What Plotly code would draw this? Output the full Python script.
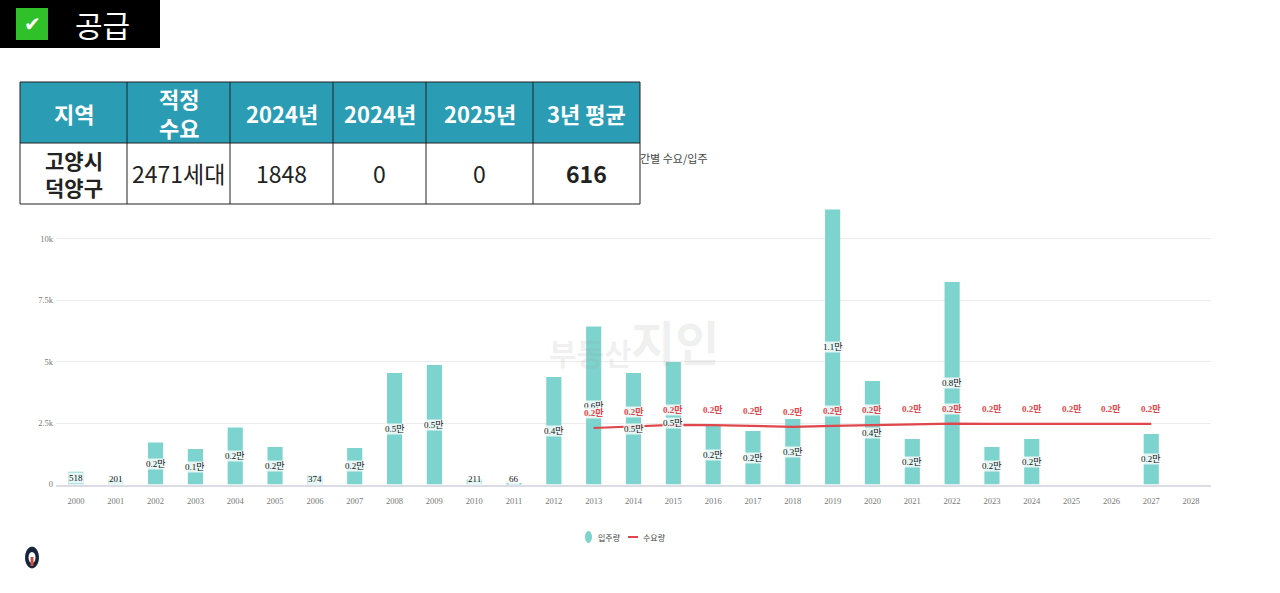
import plotly.graph_objects as go

years = [str(y) for y in range(2000, 2029)]
supply = [518, 201, 1710, 1445, 2320, 1530, 374, 1490, 4540, 4865, 211, 66, 4380, 6430, 4540,
          4990, 2420, 2180, 2670, 11200, 4215, 1850, 8245, 1530, 1848, None, None, 2060, None]
supply_labels = ['518', '201', '0.2만', '0.1만', '0.2만', '0.2만', '374', '0.2만', '0.5만', '0.5만', '211', '66',
                 '0.4만', '0.6만', '0.5만', '0.5만', '0.2만', '0.2만', '0.3만', '1.1만', '0.4만', '0.2만', '0.8만',
                 '0.2만', '0.2만', '', '', '0.2만', '']
demand_years = [str(y) for y in range(2013, 2028)]
demand = [2300, 2360, 2430, 2420, 2390, 2350, 2390, 2430, 2450, 2480, 2470, 2470, 2470, 2470, 2471]
demand_labels = ['0.2만'] * 15

y_ticks = [0, 2500, 5000, 7500, 10000]
y_labels = ['0', '2.5k', '5k', '7.5k', '10k']

table_header = ['지역', '적정<br>수요', '2024년', '2024년', '2025년', '3년 평균']
table_row = ['<b>고양시<br>덕양구</b>', '2471세대', '1848', '0', '0', '<b>616</b>']
table_widths = [107, 103, 103, 93, 107, 107]

W, H = 1280, 593
BAR = '#7dd3cd'
RED = '#e0474c'
TEAL = '#2a9db5'
SERIF = 'Liberation Serif, Noto Sans CJK KR, serif'
KR = 'Noto Sans CJK KR, Noto Sans, sans-serif'
LABEL_BG = 'rgba(255,255,255,0.8)'


def px(x):
    return x / W


def py(y):
    return 1 - y / H


def paper_shape(kind, x0, y0, x1, y1, **kw):
    return dict(type=kind, xref='paper', yref='paper', x0=px(x0), x1=px(x1), y0=py(y0), y1=py(y1),
                layer='above', **kw)


def paper_text(text, x, y, size, color, family=KR, xanchor='center'):
    return dict(text=text, xref='paper', yref='paper', x=px(x), y=py(y), xanchor=xanchor, yanchor='middle',
                showarrow=False, font=dict(family=family, size=size, color=color))


fig = go.Figure()
fig.add_trace(go.Bar(x=years, y=supply, cliponaxis=False, showlegend=False,
                     marker=dict(color=BAR, line=dict(width=0))))
fig.add_trace(go.Scatter(x=demand_years, y=demand, mode='lines', cliponaxis=False, showlegend=False,
                         line=dict(color=RED, width=2.2)))

fig.update_xaxes(type='category', categoryorder='array', categoryarray=years, range=[-0.5, 28.5],
                 domain=[px(56), px(1211)], showgrid=False, showline=True, linecolor='#dcdce6', linewidth=1.5,
                 ticks='', tickfont=dict(family=SERIF, size=8.5, color='#777'), ticklabelstandoff=8, tickangle=0)
fig.update_yaxes(range=[0, 11218], domain=[py(484.5), py(209)], tickvals=y_ticks, ticktext=y_labels,
                 showgrid=True, gridcolor='#ececec', gridwidth=1, zeroline=False, ticks='',
                 tickfont=dict(family=SERIF, size=8.5, color='#777'), ticklabelstandoff=2)

shapes = []
notes = []

# value labels, annotations on a category axis take the category index
for i, (val, lab) in enumerate(zip(supply, supply_labels)):
    if val is None:
        continue
    notes.append(dict(text=lab, x=i, y=max(val / 2, 230), xref='x', yref='y', showarrow=False,
                      bgcolor=LABEL_BG, borderpad=0, font=dict(family=SERIF, size=9, color='#111')))
for yr, val, lab in zip(demand_years, demand, demand_labels):
    notes.append(dict(text='<b>' + lab + '</b>', x=years.index(yr), y=val, xref='x', yref='y', yshift=15,
                      showarrow=False, bgcolor=LABEL_BG, borderpad=0, font=dict(family=SERIF, size=9, color=RED)))

# badge
shapes.append(paper_shape('rect', 0, 0, 160, 48, fillcolor='black', line_width=0))
shapes.append(paper_shape('rect', 16, 8, 48, 40, fillcolor='#2fc02a', line_width=0))
notes.append(paper_text('✔', 32, 24, 20, 'white', family='DejaVu Sans'))
notes.append(paper_text('공급', 102, 24, 30, 'white'))

# table
top, mid, bottom = 82, 143, 204
shapes.append(paper_shape('rect', 20, top, 640, mid, fillcolor=TEAL, line_width=0))
left = 20
for w, head, cell in zip(table_widths, table_header, table_row):
    notes.append(paper_text('<b>' + head + '</b>', left + w / 2, (top + mid) / 2, 22, 'white'))
    cell_size = 21 if '<br>' in cell else 23
    notes.append(paper_text(cell, left + w / 2, (mid + bottom) / 2, cell_size, '#222'))
    shapes.append(paper_shape('line', left, top, left, bottom, line=dict(color='#222', width=1)))
    left += w
shapes.append(paper_shape('line', left, top, left, bottom, line=dict(color='#222', width=1)))
for yy in [top, mid, bottom]:
    shapes.append(paper_shape('line', 20, yy, 640, yy, line=dict(color='#222', width=1)))

# chart title, partly hidden behind the table in the source
notes.append(paper_text('간별 수요/입주', 638, 158, 11, '#444', xanchor='left'))

# watermark
notes.append(paper_text('<b>부동산</b>', 590, 352, 30, 'rgba(160,160,160,0.16)'))
notes.append(paper_text('<b>지인</b>', 675, 340, 48, 'rgba(160,160,160,0.16)'))

# legend
shapes.append(paper_shape('circle', 585, 531, 592, 543, fillcolor=BAR, line_width=0))
notes.append(paper_text('입주량', 596, 537, 8, '#444', xanchor='left'))
shapes.append(paper_shape('line', 628, 537, 638, 537, line=dict(color=RED, width=2)))
notes.append(paper_text('수요량', 641, 537, 8, '#444', xanchor='left'))

# logo
shapes.append(paper_shape('circle', 25.5, 547, 38.5, 568, fillcolor='#16233a', line=dict(color='#16233a', width=1)))
shapes.append(paper_shape('circle', 28.5, 552, 35.5, 563, fillcolor='#ffffff', line_width=0))
shapes.append(paper_shape('rect', 30.5, 557, 33.5, 566, fillcolor='#c8503c', line_width=0))

fig.update_layout(
    width=W, height=H, autosize=False, plot_bgcolor='white', paper_bgcolor='white',
    margin=dict(l=0, r=0, t=0, b=0, autoexpand=False), bargap=0.62, showlegend=False,
    shapes=shapes, annotations=notes,
)

fig.write_html('out.html', config=dict(displayModeBar=False), post_script="document.body.style.margin='0';")
